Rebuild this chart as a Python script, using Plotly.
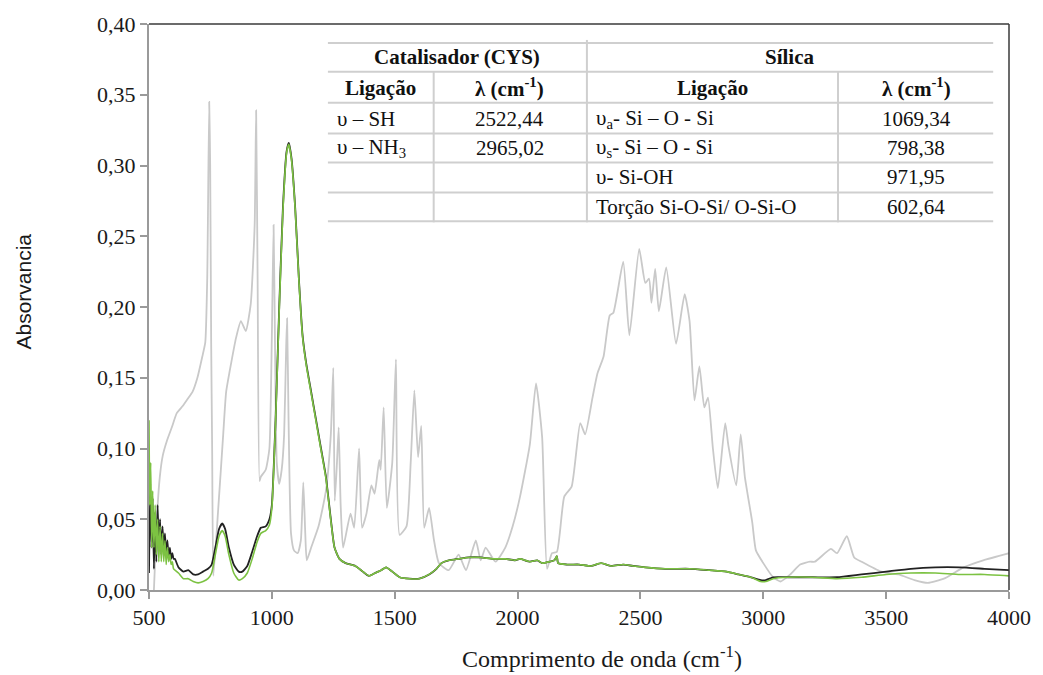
import plotly.graph_objects as go

# ---- spectra (wavenumber in cm-1, absorbance) ----
cys_x = [520, 532, 544, 556, 572, 593, 613, 637, 657, 677, 697, 717, 729, 737, 745, 749, 753, 757, 762,
         782, 802, 814, 834, 854, 874, 894, 914, 930, 936, 942, 950, 955, 975, 990, 1000, 1007, 1013,
         1020, 1030, 1040, 1050, 1058, 1062, 1068, 1078, 1090, 1105, 1118, 1128, 1136, 1142, 1160,
         1190, 1220, 1240, 1250, 1256, 1265, 1272, 1280, 1290, 1320, 1335, 1355, 1367, 1385, 1405,
         1418, 1437, 1443, 1455, 1468, 1490, 1505, 1520, 1548, 1565, 1580, 1595, 1608, 1620, 1640,
         1660, 1680, 1720, 1760, 1790, 1830, 1850, 1870, 1910, 1950, 1980, 2010, 2050, 2075, 2100,
         2120, 2140, 2160, 2190, 2220, 2255, 2275, 2305, 2325, 2350, 2375, 2390, 2430, 2455, 2495,
         2520, 2535, 2545, 2560, 2575, 2605, 2645, 2680, 2700, 2720, 2740, 2760, 2775, 2795, 2815,
         2845, 2858, 2890, 2908, 2925, 2955, 2970, 3000, 3040, 3070, 3110, 3150, 3190, 3210, 3275,
         3300, 3340, 3370, 3400, 3480, 3550, 3615, 3670, 3735, 3815, 3895, 4000]
cys_y = [0.000, 0.050, 0.080, 0.095, 0.105, 0.115, 0.125, 0.130, 0.135, 0.140, 0.150, 0.165, 0.175, 0.220,
         0.345, 0.300, 0.175, 0.100, 0.010,
         0.058, 0.110, 0.140, 0.160, 0.178, 0.190, 0.183, 0.202, 0.258, 0.339, 0.220, 0.077, 0.080,
         0.085, 0.100, 0.180, 0.258, 0.170,
         0.090, 0.075, 0.085, 0.110, 0.170, 0.192, 0.120, 0.040, 0.028, 0.026, 0.035, 0.076, 0.040,
         0.021, 0.030,
         0.045, 0.070, 0.110, 0.157, 0.063, 0.090, 0.115, 0.060, 0.030, 0.054, 0.044, 0.100, 0.044,
         0.054, 0.074,
         0.068, 0.092, 0.085, 0.129, 0.058, 0.090, 0.163, 0.039, 0.045, 0.090, 0.141, 0.094, 0.116,
         0.044, 0.058,
         0.035, 0.019, 0.014, 0.025, 0.014, 0.035, 0.021, 0.030, 0.020, 0.030, 0.045, 0.066, 0.103,
         0.146, 0.108,
         0.015, 0.026, 0.027, 0.066, 0.073, 0.118, 0.110, 0.136, 0.153, 0.165, 0.194, 0.196, 0.232,
         0.180, 0.241,
         0.217, 0.220, 0.203, 0.227, 0.197, 0.228, 0.174, 0.209, 0.190, 0.134, 0.158, 0.129, 0.136,
         0.100, 0.072,
         0.118, 0.102, 0.074, 0.110, 0.080, 0.048, 0.028, 0.019, 0.009, 0.006, 0.011, 0.018, 0.020,
         0.020, 0.029,
         0.026, 0.038, 0.023, 0.020, 0.013, 0.011, 0.007, 0.005, 0.008, 0.016, 0.021, 0.026]

black_x = [500, 505, 510, 515, 520, 525, 530, 535, 540, 545, 550, 555, 560, 565, 570, 575, 580, 585,
           590, 595, 600, 605, 620, 640, 660, 680, 700, 720, 740, 755, 770, 785, 798, 810, 825, 845,
           865, 880, 900, 920, 940, 955, 975, 990, 1000, 1015, 1030, 1045, 1060, 1069, 1080, 1095,
           1110, 1125, 1140, 1160, 1180, 1200, 1220, 1240, 1255, 1275, 1300, 1340, 1370, 1395, 1420,
           1445, 1465, 1490, 1520, 1560, 1600, 1640, 1670, 1690, 1720, 1760, 1800, 1850, 1900, 1950,
           1990, 2010, 2050, 2080, 2100, 2130, 2150, 2160, 2165, 2200, 2250, 2300, 2340, 2380, 2430,
           2470, 2520, 2600, 2700, 2780, 2850, 2900, 2950, 2990, 3010, 3040, 3100, 3200, 3300, 3400,
           3500, 3600, 3700, 3800, 3900, 4000]
black_y = [0.012, 0.075, 0.030, 0.065, 0.015, 0.055, 0.020, 0.060, 0.030, 0.050, 0.025, 0.045, 0.028,
           0.040, 0.025, 0.035, 0.022, 0.030, 0.022, 0.026, 0.022, 0.022, 0.016, 0.013, 0.014, 0.011,
           0.011, 0.013, 0.015, 0.018, 0.030, 0.043, 0.047, 0.043, 0.030, 0.018,
           0.013, 0.013, 0.017, 0.027, 0.038, 0.044, 0.045, 0.050, 0.060, 0.120, 0.200, 0.270, 0.310,
           0.316, 0.305, 0.270,
           0.220, 0.180, 0.160, 0.140, 0.120, 0.100, 0.080, 0.050, 0.030, 0.022, 0.019, 0.017, 0.013,
           0.010, 0.012,
           0.014, 0.016, 0.013, 0.009, 0.008, 0.008, 0.011, 0.015, 0.019, 0.021, 0.022, 0.023, 0.023,
           0.022, 0.022,
           0.021, 0.022, 0.020, 0.021, 0.019, 0.020, 0.021, 0.024, 0.019, 0.018, 0.018, 0.017, 0.019,
           0.017, 0.018,
           0.017, 0.016, 0.015, 0.015, 0.014, 0.013, 0.011, 0.009, 0.007, 0.007, 0.009, 0.009, 0.009,
           0.009, 0.011,
           0.013, 0.015, 0.016, 0.016, 0.015, 0.014]

green_x = [500, 503, 507, 511, 515, 520, 525, 530, 535, 540, 545, 550, 555, 560, 565, 570, 575, 580,
           585, 590, 595, 600, 620, 640, 660, 680, 700, 720, 740, 755, 770, 785, 798, 810, 825, 845,
           865, 880, 900, 920, 940, 955, 975, 990, 1000, 1015, 1030, 1045, 1060, 1069, 1080, 1095,
           1110, 1125, 1140, 1160, 1180, 1200, 1220, 1240, 1255, 1275, 1300, 1340, 1370, 1395, 1420,
           1445, 1465, 1490, 1520, 1560, 1600, 1640, 1670, 1690, 1720, 1760, 1800, 1850, 1900, 1950,
           1990, 2010, 2050, 2080, 2100, 2130, 2150, 2160, 2165, 2200, 2250, 2300, 2340, 2380, 2430,
           2470, 2520, 2600, 2700, 2780, 2850, 2900, 2950, 2990, 3010, 3040, 3100, 3200, 3300, 3400,
           3500, 3600, 3700, 3800, 3900, 4000]
green_y = [0.120, 0.060, 0.090, 0.030, 0.070, 0.030, 0.060, 0.025, 0.050, 0.020, 0.045, 0.020, 0.040,
           0.020, 0.035, 0.018, 0.030, 0.020, 0.025, 0.018, 0.020, 0.015, 0.012, 0.008, 0.008, 0.006,
           0.005, 0.006, 0.008, 0.012, 0.025, 0.038, 0.042, 0.038, 0.025, 0.012,
           0.007, 0.008, 0.012, 0.022, 0.034, 0.040, 0.042, 0.046, 0.058, 0.118, 0.198, 0.268, 0.309,
           0.315, 0.304, 0.269,
           0.219, 0.179, 0.159, 0.139, 0.119, 0.099, 0.079, 0.049, 0.030, 0.022, 0.019, 0.017, 0.013,
           0.010, 0.012,
           0.014, 0.016, 0.013, 0.009, 0.008, 0.008, 0.011, 0.015, 0.019, 0.021, 0.022, 0.023, 0.023,
           0.022, 0.022,
           0.021, 0.022, 0.020, 0.021, 0.019, 0.020, 0.021, 0.024, 0.019, 0.018, 0.018, 0.017, 0.019,
           0.017, 0.018,
           0.017, 0.016, 0.015, 0.015, 0.014, 0.013, 0.011, 0.009, 0.006, 0.006, 0.008, 0.009, 0.009,
           0.008, 0.009,
           0.011, 0.012, 0.012, 0.011, 0.011, 0.010]

x_ticks = [500, 1000, 1500, 2000, 2500, 3000, 3500, 4000]
y_ticks = [0.00, 0.05, 0.10, 0.15, 0.20, 0.25, 0.30, 0.35, 0.40]
y_tick_labels = ["0,00", "0,05", "0,10", "0,15", "0,20", "0,25", "0,30", "0,35", "0,40"]

# ---- band assignment tables ----
cys_bonds = ["υ – SH", "υ – NH<sub>3</sub>"]
cys_lambda = ["2522,44", "2965,02"]
silica_bonds = ["υ<sub>a</sub>- Si – O - Si", "υ<sub>s</sub>- Si – O - Si", "υ- Si-OH",
                "Torção Si-O-Si/ O-Si-O"]
silica_lambda = ["1069,34", "798,38", "971,95", "602,64"]

W, H = 1043, 675
L, R, T, B = 149, 1019, 22, 590
SERIF = "Liberation Serif"


def px(xp):
    return (xp - L) / (R - L)


def py(yp):
    return (B - yp) / (B - T)


fig = go.Figure()
fig.add_trace(go.Scatter(x=cys_x, y=cys_y, mode="lines",
                         line=dict(color="#c9c9c9", width=1.8, shape="spline", smoothing=0.5),
                         hoverinfo="skip"))
fig.add_trace(go.Scatter(x=black_x, y=black_y, mode="lines",
                         line=dict(color="#222222", width=1.8, shape="spline", smoothing=0.5),
                         hoverinfo="skip"))
fig.add_trace(go.Scatter(x=green_x, y=green_y, mode="lines",
                         line=dict(color="#7cc242", width=1.6, shape="spline", smoothing=0.5),
                         hoverinfo="skip"))

tick_font = dict(family=SERIF, size=22, color="#1a1a1a")
fig.update_xaxes(range=[500, 4000], tickvals=x_ticks, ticktext=[str(v) for v in x_ticks],
                 ticks="outside", ticklen=7, tickcolor="#9a9a9a", tickwidth=1.5,
                 showline=True, linecolor="#9a9a9a", linewidth=2, showgrid=False, zeroline=False,
                 tickfont=tick_font)
fig.update_yaxes(range=[0, 0.40], tickvals=y_ticks, ticktext=y_tick_labels,
                 ticks="outside", ticklen=7, tickcolor="#9a9a9a", tickwidth=1.5,
                 showline=True, linecolor="#9a9a9a", linewidth=2, showgrid=False, zeroline=False,
                 tickfont=tick_font)

shapes = [
    # upper and right frame
    dict(type="line", xref="paper", yref="paper", x0=0, x1=1, y0=1, y1=1,
         line=dict(color="#3a3a3a", width=1.5)),
    dict(type="line", xref="paper", yref="paper", x0=1, x1=1, y0=0, y1=1,
         line=dict(color="#3a3a3a", width=1.5)),
    # table background
    dict(type="rect", xref="paper", yref="paper", x0=px(330), x1=px(1003), y0=py(221), y1=py(40),
         fillcolor="white", line=dict(width=0), layer="above"),
]
grid_col = "#cfcfcf"
for yl in [41, 70, 101, 132, 161, 191, 220]:
    shapes.append(dict(type="line", xref="paper", yref="paper", x0=px(330), x1=px(1003),
                       y0=py(yl), y1=py(yl), line=dict(color=grid_col, width=2), layer="above"))
for xl, ytop in [(437, 70), (592, 38), (846, 70)]:
    shapes.append(dict(type="line", xref="paper", yref="paper", x0=px(xl), x1=px(xl),
                       y0=py(ytop), y1=py(221), line=dict(color=grid_col, width=2), layer="above"))

ann = []


def txt(s, xp, yp, anchor="center", bold=False, size=21):
    t = f"<b>{s}</b>" if bold else s
    ann.append(dict(text=t, x=px(xp), y=py(yp), xref="paper", yref="paper", showarrow=False,
                    xanchor=anchor, yanchor="middle", font=dict(family=SERIF, size=size, color="#111111")))


txt("Catalisador (CYS)", 461, 55, bold=True)
txt("Sílica", 797, 55, bold=True)
txt("Ligação", 383, 86, bold=True)
txt("λ (cm<sup>-1</sup>)", 514, 86, bold=True)
txt("Ligação", 719, 86, bold=True)
txt("λ (cm<sup>-1</sup>)", 925, 86, bold=True)
row_y = [117, 146, 176, 206]
for i, (b, v) in enumerate(zip(cys_bonds, cys_lambda)):
    txt(b, 337, row_y[i], anchor="left")
    txt(v, 514, row_y[i])
for i, (b, v) in enumerate(zip(silica_bonds, silica_lambda)):
    txt(b, 599, row_y[i], anchor="left")
    txt(v, 925, row_y[i])

# axis titles
ann.append(dict(text="Comprimento de onda (cm<sup>-1</sup>)", x=px(607), y=py(657), xref="paper",
                yref="paper", showarrow=False, xanchor="center", yanchor="middle",
                font=dict(family=SERIF, size=24, color="#1a1a1a")))
ann.append(dict(text="Absorvancia", x=px(22), y=py(290), xref="paper", yref="paper",
                showarrow=False, xanchor="center", yanchor="middle", textangle=-90,
                font=dict(family="Liberation Sans", size=21, color="#1a1a1a")))

fig.update_layout(width=W, height=H, margin=dict(l=L, r=W - R, t=T, b=H - B),
                  plot_bgcolor="white", paper_bgcolor="white", showlegend=False,
                  shapes=shapes, annotations=ann)

fig.write_html("out.html")
